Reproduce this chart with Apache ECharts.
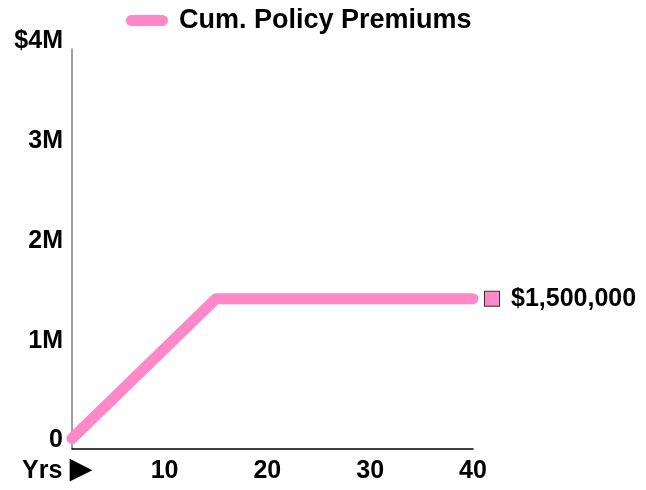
<!DOCTYPE html>
<html><head><meta charset="utf-8">
<script src="https://cdn.jsdelivr.net/npm/echarts@6/dist/echarts.min.js"></script>
<style>html,body{margin:0;padding:0;background:#fff}#c{width:646px;height:490px}</style>
</head><body><div id="c"></div>
<script>
var seriesName = 'Cum. Policy Premiums';
var years = [1, 15, 40];
var premiums = [100000, 1500000, 1500000];
var xTicks = [1, 10, 20, 30, 40];
var xTickLabels = ['Yrs', '10', '20', '30', '40'];
var xArrow = '\u25BA';
var yTicks = [0, 1000000, 2000000, 3000000, 4000000];
var yTickLabels = ['0', '1M', '2M', '3M', '$4M'];

var FONT = '"Liberation Sans", Arial, sans-serif';
var PINK = '#ff88c8';
var data = years.map(function (y, i) { return [y, premiums[i]]; });
function fmtMoney(v) { return '$' + v.toString().replace(/\B(?=(\d{3})+(?!\d))/g, ','); }

var chart = echarts.init(document.getElementById('c'), null, {renderer: 'canvas'});
chart.setOption({
  animation: false,
  backgroundColor: '#fff',
  textStyle: {fontFamily: FONT},
  grid: {left: 72, top: 49, width: 401, height: 401, containLabel: false},
  legend: {
    data: [seriesName],
    left: 121, top: 2,
    icon: 'path://M5.5,0H36.5A5.5,5.5,0,0,1,36.5,11H5.5A5.5,5.5,0,0,1,5.5,0Z',
    itemWidth: 42, itemHeight: 11, itemGap: 10,
    textStyle: {fontFamily: FONT, fontSize: 27, fontWeight: 'bold', color: '#000', padding: [0, 0, 0, 6]}
  },
  xAxis: {
    type: 'value', min: xTicks[0], max: xTicks[xTicks.length - 1],
    splitLine: {show: false},
    axisTick: {show: false},
    axisLine: {lineStyle: {color: '#000', width: 1.5}},
    axisLabel: {
      customValues: xTicks,
      margin: 10,
      fontFamily: FONT, fontSize: 25, fontWeight: 'bold', color: '#000',
      formatter: function (v) {
        var i = xTicks.indexOf(v);
        var s = i >= 0 ? xTickLabels[i] : '';
        return i === 0 ? '{y|' + s + '}{a|' + xArrow + '}{p|}' : s;
      },
      rich: {
        y: {fontFamily: FONT, fontSize: 25, fontWeight: 'bold', color: '#000'},
        a: {fontFamily: FONT, fontSize: 38, fontWeight: 'bold', color: '#000', lineHeight: 25},
        p: {width: 0, padding: [0, 22, 0, 0]}
      }
    }
  },
  yAxis: {
    type: 'value', min: yTicks[0], max: yTicks[yTicks.length - 1], interval: 1000000,
    splitLine: {show: false},
    axisTick: {show: false},
    axisLine: {show: true, lineStyle: {color: '#808080', width: 1.5}},
    axisLabel: {
      margin: 9,
      fontFamily: FONT, fontSize: 25, fontWeight: 'bold', color: '#000',
      verticalAlign: 'bottom', lineHeight: 16,
      formatter: function (v) { var i = yTicks.indexOf(v); return i >= 0 ? yTickLabels[i] : ''; }
    }
  },
  series: [{
    name: seriesName,
    type: 'line',
    data: data,
    symbol: 'none',
    clip: true,
    color: PINK,
    lineStyle: {color: PINK, width: 11, cap: 'round', join: 'round'},
    endLabel: {
      show: true,
      distance: 12,
      formatter: function (p) { return '{sq|}{t|' + fmtMoney(p.value[1]) + '}'; },
      rich: {
        sq: {width: 14, height: 14, backgroundColor: PINK, borderColor: '#333', borderWidth: 1},
        t: {fontFamily: FONT, fontSize: 25, fontWeight: 'bold', color: '#000', padding: [0, 0, 0, 12]}
      }
    }
  }]
});
</script></body></html>
